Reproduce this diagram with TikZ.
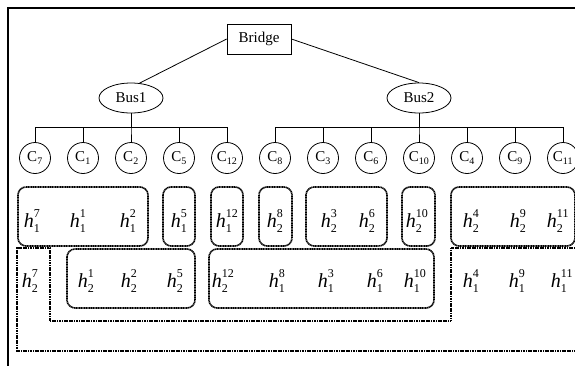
\documentclass[tikz,border=0pt]{standalone}
\usepackage{amsmath}
\usepackage{fontspec}
\setmainfont{Liberation Serif}
\usetikzlibrary{shapes.geometric}
\DeclareMathSizes{20}{20}{12}{10}
\DeclareMathSizes{15}{15}{10}{8}
\newcommand\hh[2]{$\textit{h}^{\text{#2}}_{\text{#1}}$}
\newcommand\cc[1]{$\text{C}_{\text{#1}}$}
\begin{document}
\begin{tikzpicture}[x=1pt,y=-1pt,
  frame/.style={line width=2.2pt},
  conn/.style={line width=0.8pt},
  bridgebox/.style={draw,line width=0.8pt,minimum width=64pt,minimum height=30pt,inner sep=0pt,font=\fontsize{15}{18}\selectfont},
  bus/.style={ellipse,draw,line width=0.8pt,minimum width=64pt,minimum height=30pt,inner sep=0pt,font=\fontsize{15}{18}\selectfont},
  comp/.style={circle,draw,line width=0.8pt,minimum size=31pt,inner sep=0pt,font=\fontsize{15}{18}\selectfont},
  grp/.style={line width=1.6pt,dash pattern=on 1.2pt off 0.5pt,rounded corners=8pt},
  region/.style={line width=1.6pt,dash pattern=on 1.2pt off 0.5pt},
  lab/.style={inner sep=0pt,anchor=base,font=\fontsize{20}{24}\selectfont}]
\useasboundingbox (0,0) rectangle (575,365);
\clip (0,0) rectangle (575,365);
\draw[frame] (8,370) -- (8,8) -- (580,8);

\node[bridgebox] (bridge) at (259,39) {Bridge};
\node[bus] (bus1) at (131,98) {Bus1};
\node[bus] (bus2) at (419,98) {Bus2};

\foreach \n/\k [count=\i from 0] in {c7/7,c1/1,c2/2,c5/5,c12/12,c8/8,c3/3,c6/6,c10/10,c4/4,c9/9,c11/11}
  \node[comp] (\n) at ({35+48*\i},158) {\cc{\k}};

\draw[conn] (bridge.west) -- (bus1.60);
\draw[conn] (bridge.east) -- (bus2.north);
\foreach \n in {c7,c1,c2,c5,c12}
  \draw[conn] (bus1.south) -- ++(0,14) -| (\n.north);
\foreach \n in {c8,c3,c6,c10,c4,c9,c11}
  \draw[conn] (bus2.south) -- ++(0,14) -| (\n.north);

% row 1 groups
\draw[grp] (18,187) rectangle (148,246);
\draw[grp] (163,187) rectangle (195,246);
\draw[grp] (211,187) rectangle (243,246);
\draw[grp] (259,187) rectangle (292,246);
\draw[grp] (306,187) rectangle (387,246);
\draw[grp] (402,187) rectangle (435,246);
\draw[grp] (451,187) rectangle (575,246);
% row 2 groups
\draw[grp] (67,249) rectangle (195,308);
\draw[grp] (209,249) rectangle (434,308);
% L-shaped region
\draw[region] (580,248) -- (451,248) -- (451,321) -- (50,321) -- (50,248) -- (17,248) -- (17,351) -- (580,351);

% row 1 labels
\node[lab] (a7)  at (32,227)  {\hh{1}{7}};
\node[lab] (a1)  at (78,227)  {\hh{1}{1}};
\node[lab] (a2)  at (128,227) {\hh{1}{2}};
\node[lab] (a5)  at (179,227) {\hh{1}{5}};
\node[lab] (a12) at (227,227) {\hh{1}{12}};
\node[lab] (b8)  at (275,227) {\hh{2}{8}};
\node[lab] (b3)  at (329,227) {\hh{2}{3}};
\node[lab] (b6)  at (367,227) {\hh{2}{6}};
\node[lab] (b10) at (417,227) {\hh{2}{10}};
\node[lab] (b4)  at (471,227) {\hh{2}{4}};
\node[lab] (b9)  at (518,227) {\hh{2}{9}};
\node[lab] (b11) at (558,227) {\hh{2}{11}};
% row 2 labels
\node[lab] (d7)  at (30,287)  {\hh{2}{7}};
\node[lab] (d1)  at (86,287)  {\hh{2}{1}};
\node[lab] (d2)  at (129,287) {\hh{2}{2}};
\node[lab] (d5)  at (175,287) {\hh{2}{5}};
\node[lab] (d12) at (223,287) {\hh{2}{12}};
\node[lab] (e8)  at (277,287) {\hh{1}{8}};
\node[lab] (e3)  at (326,287) {\hh{1}{3}};
\node[lab] (e6)  at (375,287) {\hh{1}{6}};
\node[lab] (e10) at (415,287) {\hh{1}{10}};
\node[lab] (e4)  at (471,287) {\hh{1}{4}};
\node[lab] (e9)  at (517,287) {\hh{1}{9}};
\node[lab] (e11) at (562,287) {\hh{1}{11}};
\end{tikzpicture}
\end{document}
